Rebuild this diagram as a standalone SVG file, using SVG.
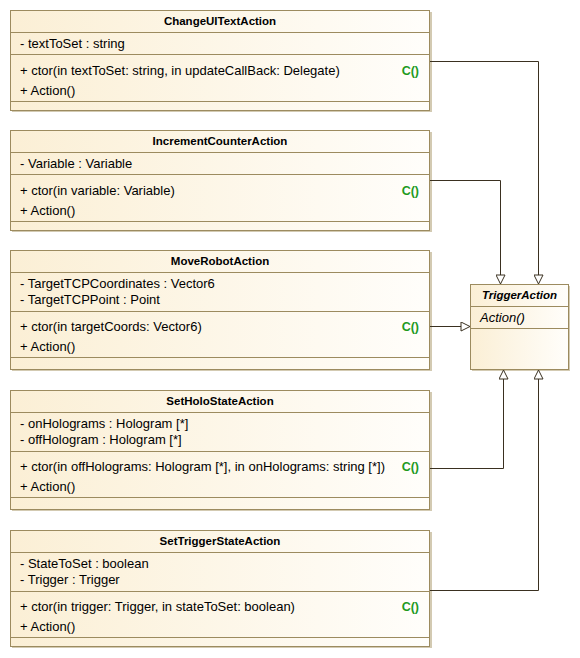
<svg xmlns="http://www.w3.org/2000/svg" width="580" height="658" viewBox="0 0 580 658">
<defs>
<linearGradient id="fillg" x1="0" y1="0" x2="1" y2="0">
<stop offset="0" stop-color="#FBEFD5"/>
<stop offset="1" stop-color="#FFFEFB"/>
</linearGradient>
<marker id="tri" viewBox="0 0 10 10" refX="10" refY="5" markerWidth="10" markerHeight="10" markerUnits="userSpaceOnUse" orient="auto">
<path d="M1,0.5 L10,5 L1,9.5 Z" fill="#FFFFFF" stroke="#3A3020" stroke-width="1"/>
</marker>
<style>
.shadow{fill:#D3CAB2;}
.box{fill:url(#fillg);stroke:#9C8B5F;stroke-width:1;}
.sep{stroke:#9C8B5F;stroke-width:1;}
.title{font-family:"Liberation Sans",Arial,sans-serif;font-size:11.5px;font-weight:bold;fill:#000;text-anchor:middle;}
.t{font-family:"Liberation Sans",Arial,sans-serif;font-size:13px;fill:#000;}
.c{font-family:"Liberation Sans",Arial,sans-serif;font-size:12.5px;font-weight:bold;fill:#1E9A1E;text-anchor:end;}
.it{font-style:italic;}
.conn{fill:none;stroke:#3A3020;stroke-width:1;marker-end:url(#tri);}
</style>
</defs>
<rect width="580" height="658" fill="#FFFFFF"/>

<g id="ChangeUITextAction">
<rect class="shadow" x="12" y="12" width="420" height="100"/>
<rect class="box" x="10.5" y="10.5" width="419" height="100"/>
<line class="sep" x1="10.5" y1="32.5" x2="429.5" y2="32.5"/>
<line class="sep" x1="10.5" y1="54.5" x2="429.5" y2="54.5"/>
<line class="sep" x1="10.5" y1="101.5" x2="429.5" y2="101.5"/>
<text class="title" x="220" y="24.5">ChangeUITextAction</text>
<text class="t" x="20" y="47.5">- textToSet : string</text>
<text class="t" x="20" y="74.5">+ ctor(in textToSet: string, in updateCallBack: Delegate)</text>
<text class="c" x="419" y="74.5">C()</text>
<text class="t" x="20" y="94.5">+ Action()</text>
</g>

<g id="IncrementCounterAction">
<rect class="shadow" x="12" y="132" width="420" height="100"/>
<rect class="box" x="10.5" y="130.5" width="419" height="100"/>
<line class="sep" x1="10.5" y1="152.5" x2="429.5" y2="152.5"/>
<line class="sep" x1="10.5" y1="174.5" x2="429.5" y2="174.5"/>
<line class="sep" x1="10.5" y1="221.5" x2="429.5" y2="221.5"/>
<text class="title" x="220" y="144.5">IncrementCounterAction</text>
<text class="t" x="20" y="167.5">- Variable : Variable</text>
<text class="t" x="20" y="194.5">+ ctor(in variable: Variable)</text>
<text class="c" x="419" y="194.5">C()</text>
<text class="t" x="20" y="214.5">+ Action()</text>
</g>

<g id="MoveRobotAction">
<rect class="shadow" x="12" y="252" width="420" height="119"/>
<rect class="box" x="10.5" y="250.5" width="419" height="119"/>
<line class="sep" x1="10.5" y1="272.5" x2="429.5" y2="272.5"/>
<line class="sep" x1="10.5" y1="311.5" x2="429.5" y2="311.5"/>
<line class="sep" x1="10.5" y1="357.5" x2="429.5" y2="357.5"/>
<text class="title" x="220" y="264.5">MoveRobotAction</text>
<text class="t" x="20" y="287.5">- TargetTCPCoordinates : Vector6</text>
<text class="t" x="20" y="303.5">- TargetTCPPoint : Point</text>
<text class="t" x="20" y="330.5">+ ctor(in targetCoords: Vector6)</text>
<text class="c" x="419" y="330.5">C()</text>
<text class="t" x="20" y="350.5">+ Action()</text>
</g>

<g id="SetHoloStateAction">
<rect class="shadow" x="12" y="392" width="420" height="119"/>
<rect class="box" x="10.5" y="390.5" width="419" height="119"/>
<line class="sep" x1="10.5" y1="412.5" x2="429.5" y2="412.5"/>
<line class="sep" x1="10.5" y1="451.5" x2="429.5" y2="451.5"/>
<line class="sep" x1="10.5" y1="497.5" x2="429.5" y2="497.5"/>
<text class="title" x="220" y="404.5">SetHoloStateAction</text>
<text class="t" x="20" y="427.5">- onHolograms : Hologram [*]</text>
<text class="t" x="20" y="443.5">- offHologram : Hologram [*]</text>
<text class="t" x="20" y="470.5">+ ctor(in offHolograms: Hologram [*], in onHolograms: string [*])</text>
<text class="c" x="419" y="470.5">C()</text>
<text class="t" x="20" y="490.5">+ Action()</text>
</g>

<g id="SetTriggerStateAction">
<rect class="shadow" x="12" y="532" width="420" height="116"/>
<rect class="box" x="10.5" y="530.5" width="419" height="116"/>
<line class="sep" x1="10.5" y1="552.5" x2="429.5" y2="552.5"/>
<line class="sep" x1="10.5" y1="591.5" x2="429.5" y2="591.5"/>
<line class="sep" x1="10.5" y1="637.5" x2="429.5" y2="637.5"/>
<text class="title" x="220" y="544.5">SetTriggerStateAction</text>
<text class="t" x="20" y="567.5">- StateToSet : boolean</text>
<text class="t" x="20" y="583.5">- Trigger : Trigger</text>
<text class="t" x="20" y="610.5">+ ctor(in trigger: Trigger, in stateToSet: boolean)</text>
<text class="c" x="419" y="610.5">C()</text>
<text class="t" x="20" y="630.5">+ Action()</text>
</g>

<g id="TriggerAction">
<rect class="shadow" x="472" y="286" width="98" height="85"/>
<rect class="box" x="470.5" y="284.5" width="98" height="85"/>
<line class="sep" x1="470.5" y1="306.5" x2="568.5" y2="306.5"/>
<line class="sep" x1="470.5" y1="328.5" x2="568.5" y2="328.5"/>
<text class="title it" x="519.5" y="298.5">TriggerAction</text>
<text class="t it" x="480" y="321.5">Action()</text>
</g>

<g id="connectors">
<path class="conn" d="M430,61.5 H538.5 V284"/>
<path class="conn" d="M430,180.5 H500.5 V284"/>
<path class="conn" d="M430,326.5 H470"/>
<path class="conn" d="M430,468.5 H503.5 V370"/>
<path class="conn" d="M430,590.5 H538.5 V370"/>
</g>
</svg>
